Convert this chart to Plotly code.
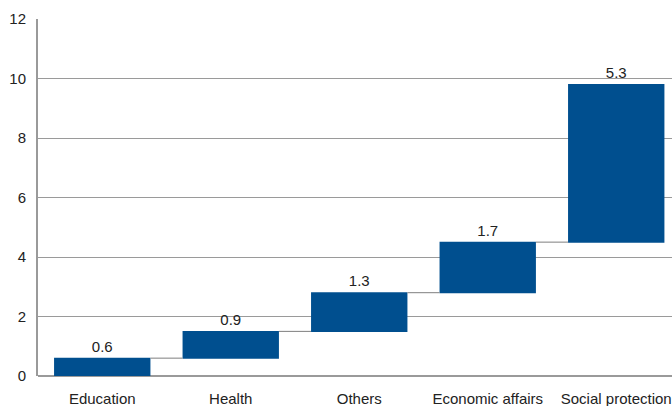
import plotly.graph_objects as go

categories = ["Education", "Health", "Others", "Economic affairs", "Social protection"]
values = [0.6, 0.9, 1.3, 1.7, 5.3]
labels = ["0.6", "0.9", "1.3", "1.7", "5.3"]
y_ticks = [0, 2, 4, 6, 8, 10, 12]

fig = go.Figure(go.Waterfall(
    x=categories,
    y=values,
    measure=["relative"] * len(values),
    text=labels,
    textposition="outside",
    textfont=dict(family="Liberation Sans, Arial, sans-serif", size=15, color="#222222"),
    increasing=dict(marker=dict(color="#004F8F", line=dict(width=0))),
    connector=dict(line=dict(color="#7f7f7f", width=1)),
    cliponaxis=False,
))

fig.update_layout(
    width=672, height=406,
    margin=dict(l=38, r=0, t=19, b=30),
    plot_bgcolor="white", paper_bgcolor="white",
    showlegend=False,
    waterfallgap=0.25,
    font=dict(family="Liberation Sans, Arial, sans-serif", size=15, color="#222222"),
    xaxis=dict(range=[-0.5, 4.434], showgrid=False, showline=False, ticks="",
               ticklabelstandoff=12, tickfont=dict(size=15)),
    yaxis=dict(range=[0, 12], tickvals=y_ticks, showgrid=True, gridcolor="#9a9a9a",
               gridwidth=1, showline=True, linecolor="#9a9a9a", linewidth=2,
               zeroline=True, zerolinecolor="#9a9a9a", zerolinewidth=2,
               ticks="", ticklabelstandoff=7, tickfont=dict(size=15)),
)

fig.write_html("out.html")
